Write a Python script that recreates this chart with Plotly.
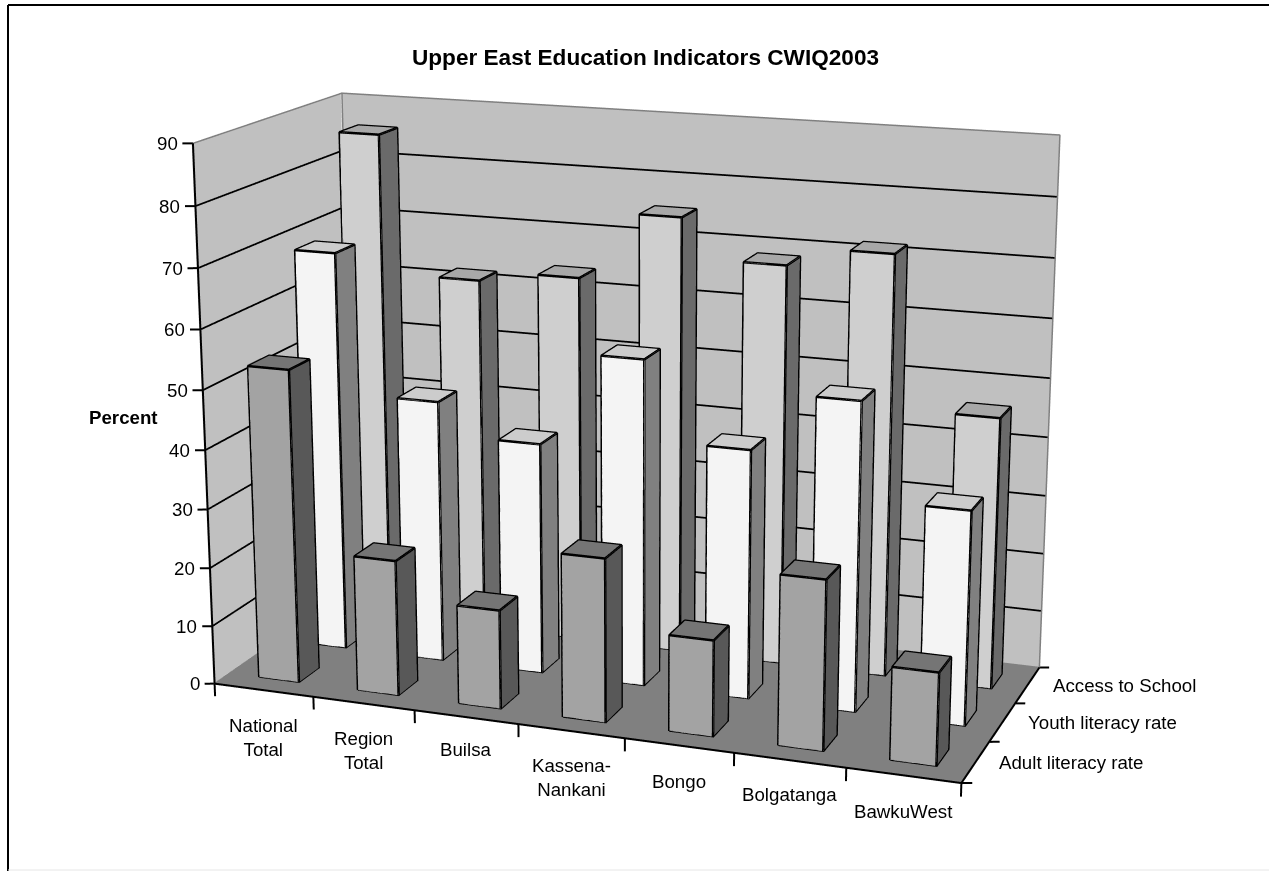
import numpy as np
import plotly.graph_objects as go

categories = ["National<br>Total", "Region<br>Total", "Builsa", "Kassena-<br>Nankani", "Bongo", "Bolgatanga", "BawkuWest"]
series_names = ["Adult literacy rate", "Youth literacy rate", "Access to School"]
adult = [53.2, 23, 16.7, 27.4, 16, 28, 15.2]
youth = [68.7, 45, 39.5, 55.3, 42, 51.7, 35.7]
access = [85.5, 61.7, 63.5, 75, 68.3, 71.5, 46]
z_ticks = [0, 10, 20, 30, 40, 50, 60, 70, 80, 90]
series_values = [adult, youth, access]

W, H, SHIFT = 1269, 2444, 792
FONT = "Liberation Sans, Arial, sans-serif"
face_cols = [("#A3A3A3", "#585858", "#757575"), ("#F4F4F4", "#808080", "#CCCCCC"), ("#CFCFCF", "#6A6A6A", "#A8A8A8")]
cat_label_shift = [-23, -23, -20, -22, -24, -22, -24]

fig = go.Figure()
light = dict(ambient=1, diffuse=0, specular=0, roughness=1, fresnel=0)

def add_quads(quads, cols):
    X, Y, Z, I, J, K, FC = [], [], [], [], [], [], []
    for q, col in zip(quads, cols):
        n = len(X)
        for p in q:
            X.append(p[0]); Y.append(p[1]); Z.append(p[2])
        I += [n, n]; J += [n + 1, n + 2]; K += [n + 2, n + 3]; FC += [col, col]
    fig.add_trace(go.Mesh3d(x=X, y=Y, z=Z, i=I, j=J, k=K, facecolor=FC, flatshading=True,
                            lighting=light, hoverinfo="skip", showscale=False))

def add_lines(segs, color, width):
    X, Y, Z = [], [], []
    for s in segs:
        for p in s:
            X.append(p[0]); Y.append(p[1]); Z.append(p[2])
        X.append(None); Y.append(None); Z.append(None)
    fig.add_trace(go.Scatter3d(x=X, y=Y, z=Z, mode="lines", line=dict(color=color, width=width),
                               hoverinfo="skip", showlegend=False))

nx, ny, zmax = len(categories), len(series_names), z_ticks[-1]
eps = 0.012
add_quads([
    [(-eps, 0, 0), (-eps, ny, 0), (-eps, ny, zmax), (-eps, 0, zmax)],
    [(0, ny + eps, 0), (nx, ny + eps, 0), (nx, ny + eps, zmax), (0, ny + eps, zmax)],
    [(0, 0, -0.1), (nx, 0, -0.1), (nx, ny, -0.1), (0, ny, -0.1)],
], ["#C0C0C0", "#C0C0C0", "#808080"])
add_lines([[(0, 0, z), (0, ny, z), (nx, ny, z)] for z in z_ticks[1:-1]], "#000000", 3.5)
add_lines([[(0, 0, zmax), (0, ny, zmax), (nx, ny, zmax), (nx, ny, 0)], [(0, ny, 0), (0, ny, zmax)],
           [(0, 0, 0), (0, ny, 0), (nx, ny, 0)]], "#808080", 3)
add_lines([[(0, 0, zmax), (0, 0, 0), (nx, 0, 0), (nx, ny, 0)]], "#000000", 4)
# tick marks
add_lines([[(i, 0, 0), (i, 0, -2.2)] for i in range(nx + 1)] +
          [[(0, 0, z), (-0.085, -0.033, z)] for z in z_ticks] +
          [[(nx, r, 0), (nx + 0.085, r + 0.033, 0)] for r in range(ny + 1)], "#000000", 4)

X0, X1, Y0, Y1 = 0.305, 0.71, 0.295, 0.705
for r in reversed(range(ny)):
    quads, cols, segs = [], [], []
    cf, cs, ct = face_cols[r]
    for i, v in enumerate(series_values[r]):
        a, b, c, d = i + X0, i + X1, r + Y0, r + Y1
        quads += [[(a, c, 0), (b, c, 0), (b, c, v), (a, c, v)],
                  [(b, c, 0), (b, d, 0), (b, d, v), (b, c, v)],
                  [(a, c, v), (b, c, v), (b, d, v), (a, d, v)]]
        cols += [cf, cs, ct]
        segs += [[(a, c, 0), (b, c, 0), (b, d, 0), (b, d, v), (a, d, v), (a, c, v), (a, c, 0)],
                 [(b, c, 0), (b, c, v), (a, c, v)], [(b, c, v), (b, d, v)]]
    add_quads(quads, cols)
    add_lines(segs, "#000000", 5)

anns = []
txt = dict(family=FONT, size=18.7, color="#000000")
for i, c in enumerate(categories):
    anns.append(dict(x=i + 0.5, y=0, z=0, text=c, showarrow=False, xanchor="center", yanchor="top",
                     yshift=cat_label_shift[i], font=txt))
for z in z_ticks:
    anns.append(dict(x=0, y=0, z=z, text=str(z), showarrow=False, xanchor="right", yanchor="middle", xshift=-13, font=txt))
for r, s in enumerate(series_names):
    anns.append(dict(x=nx, y=r + 0.5, z=0, text=s, showarrow=False, xanchor="left", yanchor="middle",
                     xshift=21 if r == 0 else 24, font=txt))

def py(p):
    return 1 - (p + SHIFT) / H

def axis(lo, hi):
    return dict(visible=False, range=[lo, hi], autorange=False)

rx, ry, rz = (-0.5, nx + 0.5), (-0.3, ny + 0.3), (-5, zmax + 5)
fig.update_layout(
    width=W, height=H, margin=dict(l=0, r=0, t=0, b=0), paper_bgcolor="white", showlegend=False,
    title=dict(text="<b>Upper East Education Indicators CWIQ2003</b>", x=645.5 / W, xref="paper", y=py(57), yref="paper",
               xanchor="center", yanchor="middle", font=dict(family=FONT, size=22.6, color="#000000")),
    annotations=[dict(text="<b>Percent</b>", x=123 / W, y=py(417), xref="paper", yref="paper", showarrow=False,
                      xanchor="center", yanchor="middle", font=txt)],
    shapes=[dict(type="line", xref="paper", yref="paper", x0=8 / W, x1=1, y0=py(5), y1=py(5), line=dict(color="#000000", width=2)),
            dict(type="line", xref="paper", yref="paper", x0=8 / W, x1=8 / W, y0=py(5), y1=py(871), line=dict(color="#000000", width=2)),
            dict(type="line", xref="paper", yref="paper", x0=8 / W, x1=1, y0=py(870), y1=py(870), line=dict(color="#E6E6E6", width=1))],
    scene=dict(
        domain=dict(x=[0, 1], y=[0, 1]),
        xaxis=axis(*rx), yaxis=axis(*ry), zaxis=axis(*rz),
        aspectmode="manual",
        aspectratio=dict(x=2.0 * (rx[1] - rx[0]) / nx, y=0.858 * (ry[1] - ry[0]) / ny, z=1.427 * (rz[1] - rz[0]) / zmax),
        camera=dict(eye=dict(x=2.514, y=-6.879, z=1.969), center=dict(x=-0.027, y=0.108, z=-0.073), up=dict(x=0, y=0, z=1),
                    projection=dict(type="perspective")),
        bgcolor="rgba(0,0,0,0)",
        annotations=anns,
    ),
)
post = ("var gd=document.getElementById('{plot_id}');gd.style.position='absolute';gd.style.left='0px';"
        "gd.style.top='-%dpx';document.documentElement.style.overflow='hidden';document.body.style.overflow='hidden';" % SHIFT)
fig.write_html("out.html", config=dict(displayModeBar=False), post_script=post)
